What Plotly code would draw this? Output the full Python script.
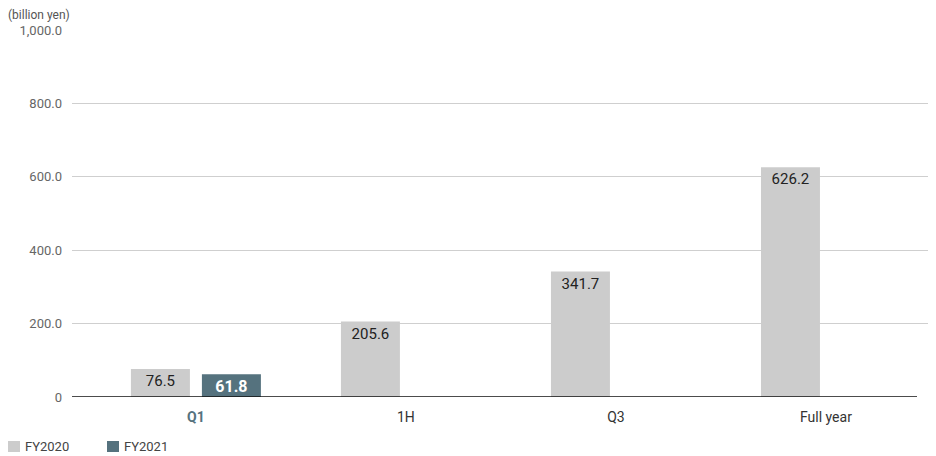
import plotly.graph_objects as go

categories = ["Q1", "1H", "Q3", "Full year"]
fy2020 = [76.5, 205.6, 341.7, 626.2]
fy2021 = [61.8, None, None, None]
tick_vals = [0, 200, 400, 600, 800, 1000]
tick_text = ["0", "200.0", "400.0", "600.0", "800.0", "1,000.0"]
series_names = ["FY2020", "FY2021"]

GRAY = "#cccccc"
TEAL = "#55727e"
FONT = "Roboto, DejaVu Sans, sans-serif"
cat_labels = [f'<span style="color:{TEAL}"><b>Q1</b></span>', "1H", "Q3", "Full year"]

W, H = 928, 448
ML, MT = 64, 22
PW, PH = 864, 367

fig = go.Figure()
fig.add_trace(go.Bar(
    name=series_names[0], x=categories, y=fy2020, marker=dict(color=GRAY, line=dict(width=0)),
    text=[f"{v:.1f}" for v in fy2020], textposition="inside", insidetextanchor="end",
    textfont=dict(color="#222222", size=15, family=FONT), constraintext="none",
    hoverinfo="skip",
))
fig.add_trace(go.Bar(
    name=series_names[1], x=categories, y=fy2021, marker=dict(color=TEAL, line=dict(width=0)),
    text=[f"<b>{v:.1f}</b>" if v is not None else "" for v in fy2021],
    textposition="inside", insidetextanchor="end",
    textfont=dict(color="#ffffff", size=16, family=FONT), constraintext="none",
    hoverinfo="skip",
))

def px_x(p):
    return (p - ML) / PW

def px_y(p):
    return 1 - (p - MT) / PH

# manual legend (figure coords; page has 8px body margin)
leg = []
leg_shapes = []
for i, (name, col) in enumerate(zip(series_names, [GRAY, TEAL])):
    x0 = 0 + i * 99
    leg_shapes.append(dict(type="rect", xref="paper", yref="paper",
                           x0=px_x(x0), x1=px_x(x0 + 12), y0=px_y(433), y1=px_y(444),
                           fillcolor=col, line=dict(width=0)))
    leg.append(dict(text=name, xref="paper", yref="paper", x=px_x(x0 + 15), y=px_y(438.5),
                    xanchor="left", yanchor="middle", showarrow=False,
                    font=dict(size=13, color="#444444", family=FONT)))

fig.update_layout(
    width=W, height=H,
    margin=dict(l=ML, r=W - ML - PW, t=MT, b=H - MT - PH),
    paper_bgcolor="white", plot_bgcolor="white",
    barmode="group", bargap=0.324, bargroupgap=0.169,
    font=dict(family=FONT, color="#333333"),
    showlegend=False,
    xaxis=dict(
        type="category", range=[-0.59, 3.524], tickvals=categories, ticktext=cat_labels,
        showgrid=False, showline=False, ticks="", zeroline=False, ticklabelstandoff=10,
        tickfont=dict(size=14, color="#333333", family=FONT),
    ),
    yaxis=dict(
        range=[0, 1000], tickvals=tick_vals, ticktext=tick_text,
        showgrid=True, gridcolor="#cfcfcf", gridwidth=1, zeroline=False,
        showline=False, ticks="", ticklabelstandoff=9,
        tickfont=dict(size=13, color="#666666", family=FONT),
    ),
    annotations=[dict(text="(billion yen)", xref="paper", yref="paper", x=px_x(-2), y=px_y(7),
                      xanchor="left", yanchor="middle", showarrow=False,
                      font=dict(size=12, color="#555555", family=FONT))] + leg,
    shapes=[dict(type="line", xref="paper", yref="y", x0=0, x1=845 / PW, y0=0, y1=0,
                 line=dict(color="#111111", width=1.5))] + leg_shapes,
)
fig.write_html("out.html")
